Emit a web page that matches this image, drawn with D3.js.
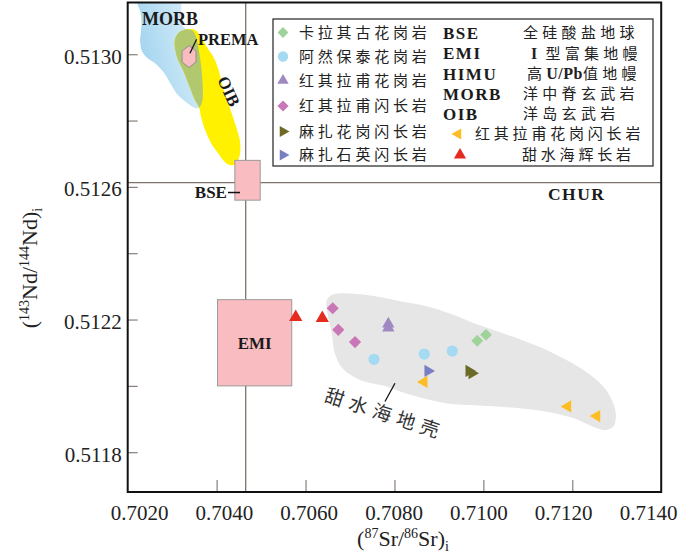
<!DOCTYPE html>
<html><head><meta charset="utf-8">
<script src="https://cdn.jsdelivr.net/npm/d3@7"></script>
<style>
body{margin:0;background:#fff;}
svg{display:block;}
.serif{font-family:"Liberation Serif","Times New Roman",serif;}
.cjk{font-family:"Noto Sans CJK SC","Noto Sans",sans-serif;}
</style></head><body>
<svg id="chart" width="700" height="553"></svg>
<script>
// ---------------- data ----------------
const xTickValues = [0.702, 0.704, 0.706, 0.708, 0.710, 0.712, 0.714];
const xTickLabels = ["0.7020", "0.7040", "0.7060", "0.7080", "0.7100", "0.7120", "0.7140"];
const xInnerTicks = [0.704, 0.706, 0.708, 0.710, 0.712];
const yTickValues = [0.5118, 0.5120, 0.5122, 0.5124, 0.5126, 0.5128, 0.5130];
const yTickLabels = ["0.5118", "", "0.5122", "", "0.5126", "", "0.5130"];

// samples: [87Sr/86Sr, 143Nd/144Nd]
const kalaqiguGranite = [[0.709863, 0.512136], [0.710059, 0.512154]];
const aranbaotaiGranite = [[0.707540, 0.512080], [0.708671, 0.512096], [0.709301, 0.512105]];
const hongqilafuGranite = [[0.707862, 0.512187], [0.707862, 0.512175]];
const hongqilafuDiorite = [[0.706611, 0.512234], [0.706737, 0.512169], [0.707113, 0.512132]];
const mazhaGranodiorite = [[0.709677, 0.512045], [0.709744, 0.512038]];
const mazhaQuartzDiorite = [[0.708754, 0.512045]];
const hongqilafuGranodiorite = [[0.708664, 0.512012], [0.711897, 0.511938], [0.712549, 0.511909]];
const tianshuihaiGabbro = [[0.705779, 0.512207], [0.706377, 0.512204]];

// reference lines / reservoirs
const bseSrLine = 0.704654;
const churNdLine = 0.512613;
const bseBoxSr = [0.70441, 0.70498];
const bseBoxNd = [0.51256, 0.51268];
const emiBoxSr = [0.70402, 0.70569];
const emiBoxNd = [0.51200, 0.51226];
const premaCenter = [0.70338, 0.512993];

const morbField = [[0.70223,0.513156],[0.70318,0.513156],[0.70320,0.51313],[0.70320,0.51310],[0.70327,0.51308],
  [0.70347,0.51307],[0.70356,0.513043],[0.70360,0.513013],[0.70365,0.512968],[0.70368,0.512923],[0.70369,0.512877],
  [0.70366,0.51285],[0.70358,0.512837],[0.70347,0.512841],[0.70331,0.512856],[0.70311,0.51288],[0.70297,0.51291],
  [0.70284,0.51294],[0.70264,0.51297],[0.70243,0.51299],[0.70232,0.51301],[0.70228,0.51304],[0.70230,0.51307],
  [0.70231,0.51310],[0.70228,0.51313]];
const oibField = [[0.70333,0.513075],[0.70351,0.513074],[0.70365,0.513052],[0.70378,0.513022],[0.70394,0.512989],
  [0.70405,0.51295],[0.70414,0.512901],[0.70426,0.512853],[0.70441,0.512793],[0.70452,0.512742],[0.70453,0.512702],
  [0.70446,0.512675],[0.70435,0.512665],[0.70421,0.512672],[0.70403,0.512702],[0.70387,0.512733],[0.70374,0.512772],
  [0.70364,0.512817],[0.70361,0.512838],[0.70351,0.512862],[0.70342,0.512892],[0.70333,0.512923],[0.70324,0.512953],
  [0.70313,0.512983],[0.70307,0.513013],[0.70306,0.513043],[0.70314,0.513064]];
const crustField = [[0.70659,0.512274],[0.70678,0.512279],[0.70738,0.512274],[0.70813,0.512255],[0.70887,0.512235],
  [0.71000,0.512179],[0.71075,0.512144],[0.71150,0.512103],[0.71225,0.512048],[0.71270,0.511998],[0.71292,0.511948],
  [0.71298,0.511907],[0.71292,0.511877],[0.71274,0.511867],[0.71247,0.511877],[0.71202,0.511903],[0.71142,0.511922],
  [0.71075,0.511933],[0.71000,0.51194],[0.70925,0.511946],[0.70850,0.511968],[0.70813,0.511983],[0.70783,0.511998],
  [0.70723,0.512018],[0.70685,0.51205],[0.70666,0.512098],[0.70659,0.512159],[0.70648,0.512229],[0.70648,0.512259]];

// ---------------- chart ----------------
const series = [
  {name:"卡拉其古花岗岩", data:kalaqiguGranite, shape:"diamond", color:"#a0d39c", size:70},
  {name:"阿然保泰花岗岩", data:aranbaotaiGranite, shape:"circle", color:"#a4daf2", size:100},
  {name:"红其拉甫花岗岩", data:hongqilafuGranite, shape:"triUp", color:"#a089c2", size:66},
  {name:"红其拉甫闪长岩", data:hongqilafuDiorite, shape:"diamond", color:"#c977b7", size:74},
  {name:"麻扎花岗闪长岩", data:mazhaGranodiorite, shape:"triRight", color:"#6c6a26", size:64},
  {name:"麻扎石英闪长岩", data:mazhaQuartzDiorite, shape:"triRight", color:"#7a7fc3", size:64},
  {name:"红其拉甫花岗闪长岩", data:hongqilafuGranodiorite, shape:"triLeft", color:"#fdbd24", size:64},
  {name:"甜水海辉长岩", data:tianshuihaiGabbro, shape:"triUp", color:"#e52a20", size:76}
];
const symType = {diamond:d3.symbolSquare, circle:d3.symbolCircle, triUp:d3.symbolTriangle, triRight:d3.symbolTriangle, triLeft:d3.symbolTriangle};
const symRot = {diamond:45, circle:0, triUp:0, triRight:90, triLeft:-90};

const svg = d3.select("#chart");
const plot = {left:127.7, right:661.2, top:2.5, bottom:492};
const x = d3.scaleLinear().domain([0.702, 0.714]).range([plot.left, plot.right]);
const y = d3.scaleLinear().domain([0.51168, 0.513156]).range([plot.bottom, plot.top]);
const xLab = d3.scaleLinear().domain([0.702, 0.714]).range([139, 648]);

const defs = svg.append("defs");
defs.append("clipPath").attr("id","plotClip").append("rect")
  .attr("x",plot.left).attr("y",plot.top).attr("width",plot.right-plot.left).attr("height",plot.bottom-plot.top);
const grad = defs.append("linearGradient").attr("id","morbGrad")
  .attr("x1","0%").attr("y1","70%").attr("x2","100%").attr("y2","30%");
grad.append("stop").attr("offset","0%").attr("stop-color","#9dd1ee");
grad.append("stop").attr("offset","100%").attr("stop-color","#dcf0fa");

const field = d3.line().x(d=>x(d[0])).y(d=>y(d[1])).curve(d3.curveCatmullRomClosed.alpha(0.5));
defs.append("clipPath").attr("id","oibClip").append("path").attr("d", field(oibField));

const g = svg.append("g").attr("clip-path","url(#plotClip)");
g.append("path").attr("d", field(crustField)).attr("fill","#e7e6e6");
g.append("path").attr("d", field(morbField)).attr("fill","url(#morbGrad)");
g.append("path").attr("d", field(oibField)).attr("fill","#fff100");
g.append("path").attr("d", field(morbField)).attr("fill","#b2c86f").attr("clip-path","url(#oibClip)");

// reference lines
g.append("line").attr("x1",x(bseSrLine)).attr("x2",x(bseSrLine)).attr("y1",plot.top).attr("y2",plot.bottom)
  .attr("stroke","#7e726d").attr("stroke-width",1.3);
g.append("line").attr("x1",plot.left).attr("x2",plot.right).attr("y1",y(churNdLine)).attr("y2",y(churNdLine))
  .attr("stroke","#7e726d").attr("stroke-width",1.3);

// PREMA hexagon
const hx = 7, hy = 11;
const pcx = x(premaCenter[0]), pcy = y(premaCenter[1]);
const hex = [[0,-hy],[hx,-hy/2],[hx,hy/2],[0,hy],[-hx,hy/2],[-hx,-hy/2]].map(p=>[pcx+p[0], pcy+p[1]]);
g.append("path").attr("d","M"+hex.join("L")+"Z").attr("fill","#f9bcc1").attr("stroke","#8f8f8f").attr("stroke-width",1);

// boxes
g.append("rect").attr("x",x(bseBoxSr[0])).attr("y",y(bseBoxNd[1]))
  .attr("width",x(bseBoxSr[1])-x(bseBoxSr[0])).attr("height",y(bseBoxNd[0])-y(bseBoxNd[1]))
  .attr("fill","#f9bcc1").attr("stroke","#9a9a9a").attr("stroke-width",1);
g.append("rect").attr("x",x(emiBoxSr[0])).attr("y",y(emiBoxNd[1]))
  .attr("width",x(emiBoxSr[1])-x(emiBoxSr[0])).attr("height",y(emiBoxNd[0])-y(emiBoxNd[1]))
  .attr("fill","#f9bcc1").attr("stroke","#9a9a9a").attr("stroke-width",1);

// axes
const yAxis = d3.axisLeft(y).tickValues(yTickValues).tickSize(-10).tickPadding(6)
  .tickFormat((d,i)=>yTickLabels[i]);
const ya = svg.append("g").attr("transform",`translate(${plot.left},0)`).call(yAxis);
ya.select(".domain").remove();
ya.selectAll("line").attr("stroke","#8a7f79").attr("stroke-width",1.2);
ya.selectAll("text").attr("class","serif").attr("font-size",21).attr("fill","#222").attr("dy","0.42em");

const xAxis = d3.axisBottom(x).tickValues(xInnerTicks).tickSize(-12).tickFormat("");
const xa = svg.append("g").attr("transform",`translate(0,${plot.bottom})`).call(xAxis);
xa.select(".domain").remove();
xa.selectAll("line").attr("stroke","#8a7f79").attr("stroke-width",1.2);

const xLabAxis = d3.axisBottom(xLab).tickValues(xTickValues).tickSize(0).tickPadding(13)
  .tickFormat((d,i)=>xTickLabels[i]);
const xl = svg.append("g").attr("transform",`translate(0,${plot.bottom})`).call(xLabAxis);
xl.select(".domain").remove();
xl.selectAll("text").attr("class","serif").attr("font-size",21).attr("fill","#222");

// data points
series.forEach(s=>{
  g.selectAll(null).data(s.data).enter().append("path")
    .attr("d", d3.symbol().type(symType[s.shape]).size(s.size))
    .attr("transform", d=>`translate(${x(d[0])},${y(d[1])}) rotate(${symRot[s.shape]})`)
    .attr("fill", s.color);
});

// annotations
const ann = svg.append("g").attr("class","serif").attr("font-weight","bold").attr("fill","#1a1a1a");
ann.append("text").attr("x",x(0.70295)).attr("y",y(0.513088)).attr("text-anchor","middle").attr("font-size",18).text("MORB");
ann.append("text").attr("x",x(0.70358)).attr("y",y(0.513028)).attr("font-size",16.5).text("PREMA");
svg.append("line").attr("x1",x(0.70340)).attr("y1",y(0.513003)).attr("x2",x(0.70355)).attr("y2",y(0.513045))
  .attr("stroke","#111").attr("stroke-width",1.3);
ann.append("text").attr("transform",`translate(${x(0.704278)},${y(0.512889)}) rotate(65)`)
  .attr("text-anchor","middle").attr("dy","0.35em").attr("font-size",17).text("OIB");
ann.append("text").attr("x",x(0.704233)).attr("y",y(0.512567)).attr("text-anchor","end").attr("font-size",17).text("BSE");
svg.append("line").attr("x1",x(0.704256)).attr("x2",x(0.704526)).attr("y1",y(0.512583)).attr("y2",y(0.512583))
  .attr("stroke","#111").attr("stroke-width",1.5);
ann.append("text").attr("x",x(0.711453)).attr("y",y(0.512561)).attr("font-size",17.5).attr("letter-spacing",1.5).text("CHUR");
ann.append("text").attr("x",x((emiBoxSr[0]+emiBoxSr[1])/2)).attr("y",y((emiBoxNd[0]+emiBoxNd[1])/2)+6)
  .attr("text-anchor","middle").attr("font-size",17).text("EMI");

svg.append("text").attr("class","cjk").attr("transform",`translate(${x(0.707787)},${y(0.511915)}) rotate(18)`)
  .attr("text-anchor","middle").attr("dy","0.35em").attr("font-size",19).attr("letter-spacing",6).attr("fill","#333")
  .text("甜水海地壳");
svg.append("line").attr("x1",x(0.708012)).attr("y1",y(0.512008)).attr("x2",x(0.707787)).attr("y2",y(0.511953))
  .attr("stroke","#111").attr("stroke-width",1.3);

// axis titles
const yt = svg.append("text").attr("class","serif").attr("font-size",22).attr("fill","#222")
  .attr("transform","translate(37,268) rotate(-90)").attr("text-anchor","middle");
yt.append("tspan").text("(");
yt.append("tspan").attr("font-size",14).attr("dy",-8).text("143");
yt.append("tspan").attr("dy",8).text("Nd/");
yt.append("tspan").attr("font-size",14).attr("dy",-8).text("144");
yt.append("tspan").attr("dy",8).text("Nd)");
yt.append("tspan").attr("font-size",14).attr("dy",5).text("i");

const xt = svg.append("text").attr("class","serif").attr("font-size",22).attr("fill","#222")
  .attr("x",403).attr("y",546).attr("text-anchor","middle");
xt.append("tspan").text("(");
xt.append("tspan").attr("font-size",14).attr("dy",-8).text("87");
xt.append("tspan").attr("dy",8).text("Sr/");
xt.append("tspan").attr("font-size",14).attr("dy",-8).text("86");
xt.append("tspan").attr("dy",8).text("Sr)");
xt.append("tspan").attr("font-size",14).attr("dy",5).text("i");

// legend
const lg = svg.append("g");
lg.append("rect").attr("x",273).attr("y",19).attr("width",380).attr("height",147)
  .attr("fill","#fff").attr("stroke","#333").attr("stroke-width",1.3);
const legPos = [
  {mx:283,my:32.5,tx:299},{mx:283,my:56.5,tx:299},{mx:283,my:80.5,tx:299},{mx:283,my:106,tx:299},
  {mx:283,my:131.5,tx:299},{mx:283,my:155,tx:299},{mx:458,my:134,tx:475},{mx:460,my:155,tx:522}
];
series.forEach((s,i)=>{
  const p = legPos[i];
  lg.append("path").attr("d", d3.symbol().type(symType[s.shape]).size(s.size*0.85))
    .attr("transform",`translate(${p.mx},${p.my}) rotate(${symRot[s.shape]})`).attr("fill",s.color);
  lg.append("text").attr("class","cjk").attr("x",p.tx).attr("y",p.my).attr("dy","0.36em")
    .attr("font-size",15).attr("letter-spacing",3.8).attr("fill","#222").text(s.name);
});
const rowY = [33, 53.5, 74, 94, 114];
const abbr = ["BSE","EMI","HIMU","MORB","OIB"];
abbr.forEach((a,i)=>{
  lg.append("text").attr("class","serif").attr("font-weight","bold").attr("font-size",17).attr("letter-spacing",1.5)
    .attr("fill","#1a1a1a").attr("x",443).attr("y",rowY[i]).attr("dy","0.35em").text(a);
});
function cjkRow(parts, xx, yy){
  const t = lg.append("text").attr("x",xx).attr("y",yy).attr("dy","0.36em").attr("font-size",15).attr("fill","#222");
  parts.forEach(p=>{
    t.append("tspan").attr("class", p[1] ? "serif" : "cjk").attr("font-weight", p[1] ? "bold" : "normal")
      .attr("font-size", p[1] ? 16 : 15).attr("letter-spacing", p[1] ? 0.5 : 4.3).text(p[0]);
  });
}
cjkRow([["全硅酸盐地球",false]], 523, rowY[0]);
cjkRow([["I",true],["  型富集地幔",false]], 531, rowY[1]);
cjkRow([["高",false],["U/Pb",true],["值地幔",false]], 527, rowY[2]);
cjkRow([["洋中脊玄武岩",false]], 523, rowY[3]);
cjkRow([["洋岛玄武岩",false]], 523, rowY[4]);

// frame
svg.append("rect").attr("x",plot.left).attr("y",plot.top).attr("width",plot.right-plot.left)
  .attr("height",plot.bottom-plot.top).attr("fill","none").attr("stroke","#111").attr("stroke-width",2);
</script>
</body></html>
